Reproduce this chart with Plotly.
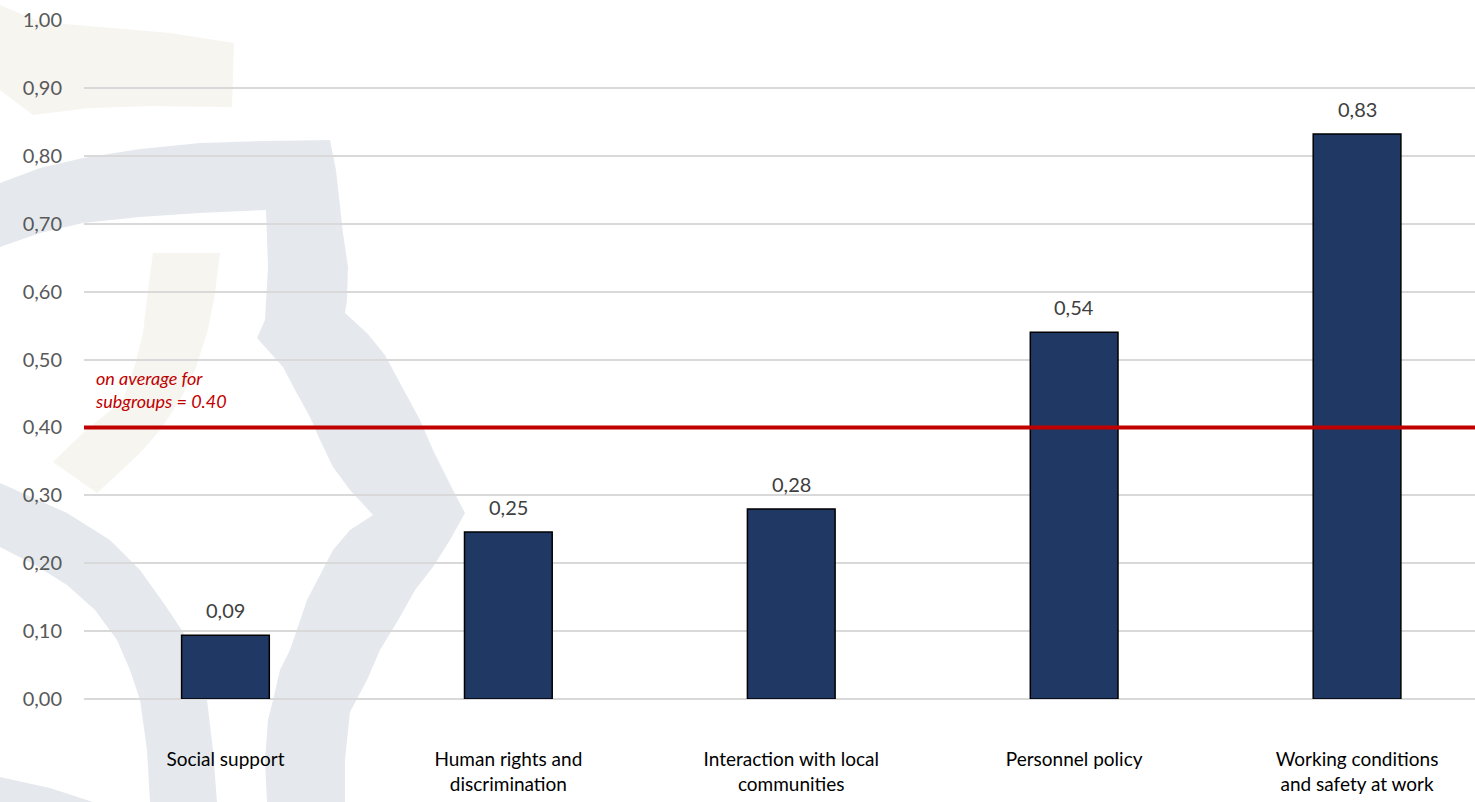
import plotly.graph_objects as go

# ---- data ----
categories = [
    "Social support",
    "Human rights and<br>discrimination",
    "Interaction with local<br>communities",
    "Personnel policy",
    "Working conditions<br>and safety at work",
]
scores = [0.094, 0.246, 0.28, 0.54, 0.832]
subgroup_average = 0.40
average_note = "on average for<br>subgroups = 0.40"
y_ticks = [0.0, 0.1, 0.2, 0.3, 0.4, 0.5, 0.6, 0.7, 0.8, 0.9, 1.0]

# ---- layout geometry (pixels) ----
W, H = 1475, 802
M_L, M_R, M_T, M_B = 84, 0, 20, 103
PLOT_W = W - M_L - M_R
PLOT_H = H - M_T - M_B

FONT = "Lato, 'Open Sans', sans-serif"
NAVY = "#203864"
RED = "#C00000"
GRID = "#D9D9D9"
WM_GRAY = "#E5E9EE"
WM_BEIGE = "#F6F5F0"


def to_paper(pts):
    """Convert pixel points (origin top-left of page) to paper coordinates."""
    return [((x - M_L) / PLOT_W, (H - M_B - y) / PLOT_H) for x, y in pts]


def poly_path(pts):
    p = to_paper(pts)
    return "M " + " L ".join(f"{x:.5f},{y:.5f}" for x, y in p) + " Z"


# faint logo artwork in the background
watermark = [
    (WM_BEIGE, [(0, 5), (40, 22), (100, 27), (170, 33), (234, 43), (232, 107),
                (150, 106), (90, 108), (33, 115), (0, 90)]),
    (WM_BEIGE, [(153, 253), (220, 253), (214, 300), (207, 333), (195, 370),
                (180, 400), (160, 430), (140, 453), (97, 493), (53, 462),
                (83, 433), (105, 415), (123, 400), (135, 365), (143, 333),
                (148, 290)]),
    (WM_GRAY, [(0, 183), (40, 168), (83, 158), (140, 149), (200, 143), (265, 141),
               (330, 140), (336, 170), (343, 233), (348, 267), (347, 300),
               (345, 313), (367, 333), (385, 355), (400, 383), (420, 420),
               (433, 450), (453, 490), (465, 513), (450, 540), (433, 567),
               (415, 590), (400, 617), (380, 650), (367, 680), (350, 712),
               (345, 760), (345, 802), (267, 802), (265, 760), (268, 720),
               (273, 700), (280, 670), (290, 650), (307, 600), (320, 575),
               (333, 550), (350, 530), (373, 515), (350, 490), (333, 467),
               (320, 440), (310, 417), (295, 390), (283, 367), (257, 338),
               (265, 320), (268, 267), (266, 210), (200, 213), (140, 217),
               (83, 223), (40, 233), (0, 247)]),
    (WM_GRAY, [(0, 483), (67, 513), (110, 540), (140, 570), (165, 605),
               (185, 635), (200, 660), (207, 700), (213, 750), (217, 802),
               (150, 802), (147, 750), (140, 700), (130, 670), (117, 640),
               (95, 610), (67, 585), (35, 565), (0, 547)]),
    (WM_GRAY, [(0, 777), (50, 788), (93, 802), (0, 802)]),
]

shapes = [
    dict(type="path", path=poly_path(pts), xref="paper", yref="paper",
         fillcolor=color, line=dict(width=0), layer="below")
    for color, pts in watermark
]

# average reference line
shapes.append(dict(type="line", xref="paper", x0=0, x1=1, yref="y",
                   y0=subgroup_average, y1=subgroup_average,
                   line=dict(color=RED, width=4), layer="above"))

x_pos = list(range(len(categories)))

fig = go.Figure()
fig.add_trace(go.Bar(
    x=x_pos,
    y=scores,
    width=0.31,
    marker=dict(color=NAVY, line=dict(color="#000000", width=1.5)),
    hoverinfo="skip",
))

annotations = [
    dict(x=xi, y=v, xref="x", yref="y", text=f"{v:.2f}".replace(".", ","),
         showarrow=False, yanchor="middle", yshift=25,
         font=dict(family=FONT, size=20, color="#404040"))
    for xi, v in zip(x_pos, scores)
]
annotations.append(dict(
    x=9 / PLOT_W, xref="paper", xanchor="left",
    y=subgroup_average, yref="y", yanchor="bottom", yshift=13,
    text=f"<i>{average_note}</i>", align="left", showarrow=False,
    font=dict(family=FONT, size=18, color=RED),
))

units_per_px = 1 / 282.9
fig.update_layout(
    width=W, height=H,
    margin=dict(l=M_L, r=M_R, t=M_T, b=M_B, pad=0),
    paper_bgcolor="white",
    plot_bgcolor="rgba(0,0,0,0)",
    separators=", ",
    showlegend=False,
    shapes=shapes,
    annotations=annotations,
    xaxis=dict(
        range=[-0.5, -0.5 + PLOT_W * units_per_px],
        tickvals=x_pos, ticktext=categories,
        showgrid=False, zeroline=False, showline=False, ticks="",
        ticklabelstandoff=47,
        tickfont=dict(family=FONT, size=19, color="#000000"),
        fixedrange=True,
    ),
    yaxis=dict(
        range=[0, 1.0],
        tickvals=y_ticks, tickformat=".2f",
        showgrid=True, gridcolor=GRID, gridwidth=1.5,
        zeroline=True, zerolinecolor=GRID, zerolinewidth=1.5,
        showline=False, ticks="",
        ticklabelstandoff=21,
        tickfont=dict(family=FONT, size=20, color="#595959"),
        fixedrange=True,
    ),
)

fig.write_html("out.html", config={"displayModeBar": False})
